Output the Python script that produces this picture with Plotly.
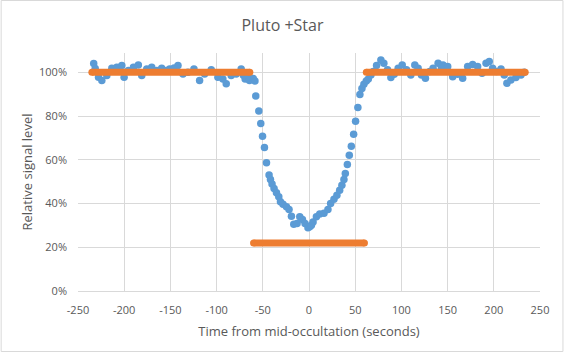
import plotly.graph_objects as go

# Blue measured signal (seconds, relative level)
time_s = [
    -233, -231.4, -227.8, -224.2, -218.8, -213.4, -208, -202.6, -200.1, -195.5,
    -190, -184.7, -181, -175.6, -170.2, -164.8, -159.4, -154, -150.8, -146,
    -141.8, -136.4, -131, -124.5, -118.4, -113, -105.8, -98.6, -93.2, -89.6,
    -84.2, -78.8, -73.4, -71, -69.1, -65.6, -64.4, -60.3, -58.5,
    -57.6, -54.3, -52.2, -50.3, -48.2, -46, -43.2, -41.7, -40, -37.8,
    -35.2, -32.7, -30.9, -28.1, -24.4, -21.6, -19, -16.5, -12.9, -10,
    -7.1, -4.3, -1.1, 0.8, 2.6, 4.4, 8, 11.6, 16.2, 20.5,
    23.4, 27, 30.2, 33.2, 35.6, 37.8, 39.3, 41.5, 43.6, 45.8,
    48.3, 50.4, 52.9, 55.1, 57.3, 59.4, 62, 64.2, 67, 69.6,
    73.1, 77.8, 81, 85, 88.6, 92.2, 96.5, 100.9, 105.5, 110.2,
    114.5, 118.1, 121.7, 126, 130.7, 134.3, 139.7, 143.3, 145, 150.1,
    155.5, 160.9, 166.3, 171.7, 177.1, 182.5, 187.3, 191.6, 195.1, 198.7,
    203, 207.8, 211.3, 214.2, 218.5, 223.9, 229.4, 233,
]
signal = [
    1.04, 1.017, 0.977, 0.962, 0.985, 1.018, 1.023, 1.031, 0.977, 1.008,
    1.023, 1.033, 0.985, 1.015, 1.023, 1.008, 1.018, 1.008, 1.015, 1.02,
    1.031, 0.992, 1.0, 1.015, 0.962, 0.992, 1.012, 0.977, 0.969, 0.947,
    0.985, 0.992, 1.015, 0.986, 0.969, 0.979, 0.962, 0.971, 0.960,
    0.892, 0.823, 0.766, 0.708, 0.656, 0.586, 0.530, 0.510, 0.489, 0.469,
    0.449, 0.431, 0.408, 0.397, 0.385, 0.373, 0.342, 0.305, 0.309, 0.339,
    0.327, 0.309, 0.289, 0.294, 0.301, 0.316, 0.339, 0.352, 0.355, 0.373,
    0.400, 0.419, 0.438, 0.461, 0.484, 0.510, 0.537, 0.578, 0.621, 0.662,
    0.717, 0.776, 0.839, 0.898, 0.926, 0.945, 0.960, 0.969, 0.988, 1.003,
    1.031, 1.056, 1.041, 1.011, 0.976, 0.991, 1.018, 1.033, 1.011, 0.988,
    1.033, 1.018, 0.988, 0.973, 1.003, 1.018, 1.041, 1.018, 1.033, 1.026,
    0.980, 0.991, 0.973, 1.026, 1.036, 1.026, 0.995, 1.041, 1.049, 1.018,
    1.003, 1.015, 0.988, 0.950, 0.965, 0.976, 0.988, 1.0,
]

# Orange model levels (segments separated by gaps)
model_time = [-235, -64, None, -60, 60, None, 62, 234]
model_level = [1.0, 1.0, None, 0.22, 0.22, None, 1.0, 1.0]

x_ticks = [-250, -200, -150, -100, -50, 0, 50, 100, 150, 200, 250]
x_tick_labels = ["-250", "-200", "-150", "-100", "-50", "0", "50", "100", "150", "200", "250"]
y_ticks = [0, 0.2, 0.4, 0.6, 0.8, 1.0]
y_tick_labels = ["0%", "20%", "40%", "60%", "80%", "100%"]

W, H = 565, 353
L, R, T, B = 77.5, 24.5, 53, 62
pw, ph = W - L - R, H - T - B

fig = go.Figure()
fig.add_trace(go.Scatter(
    x=time_s, y=signal, mode="markers",
    marker=dict(size=7.5, color="#5B9BD5", line=dict(width=0)),
    showlegend=False,
))
fig.add_trace(go.Scatter(
    x=model_time, y=model_level, mode="lines+markers",
    line=dict(color="#ED7D31", width=7),
    marker=dict(size=7, color="#ED7D31", line=dict(width=0)),
    connectgaps=False, showlegend=False,
))

font_family = "Open Sans"
grid = "#D9D9D9"
txt = "#595959"

fig.update_layout(
    width=W, height=H,
    margin=dict(l=L, r=R, t=T, b=B, pad=0),
    paper_bgcolor="white", plot_bgcolor="white",
    font=dict(family=font_family, color=txt, size=11),
    title=dict(text="Pluto +Star", x=0.5, xref="container", xanchor="center",
               y=1 - 25 / H, yref="container", yanchor="middle",
               font=dict(size=16, color=txt, family=font_family)),
    xaxis=dict(range=[-250, 250], tickvals=x_ticks, ticktext=x_tick_labels,
               showgrid=True, gridcolor=grid,
               gridwidth=1, zeroline=False, showline=True, linecolor=grid,
               ticks="", ticklabelstandoff=9,
               tickfont=dict(size=11, color=txt),
               title=dict(text="Time from mid-occultation (seconds)",
                          font=dict(size=13, color=txt), standoff=10)),
    yaxis=dict(range=[0, 1.088], tickvals=y_ticks, ticktext=y_tick_labels,
               showgrid=True, gridcolor=grid, gridwidth=1, zeroline=False,
               showline=False, ticks="", ticklabelstandoff=10,
               tickfont=dict(size=11, color=txt),
               title=dict(text="Relative signal level",
                          font=dict(size=13, color=txt), standoff=3)),
    shapes=[dict(type="rect", xref="paper", yref="paper",
                 x0=-(L - 0.5) / pw, x1=1 + (R - 1.5) / pw,
                 y0=-(B - 1.5) / ph, y1=1 + (T - 0.5) / ph,
                 line=dict(color=grid, width=1), fillcolor="rgba(0,0,0,0)",
                 layer="below")],
)

fig.write_html("out.html")
